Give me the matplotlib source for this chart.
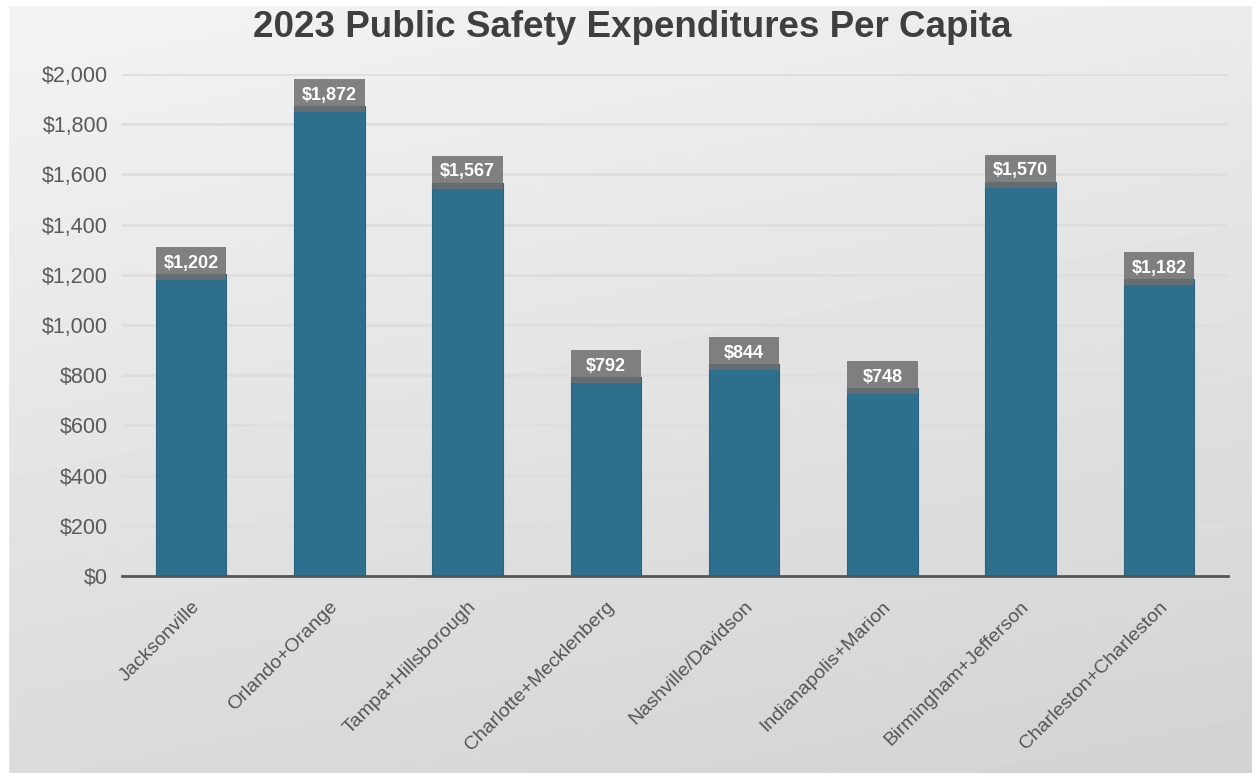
import numpy as np
import matplotlib
matplotlib.use('Agg')
import matplotlib.pyplot as plt
from matplotlib.ticker import FuncFormatter

plt.rcParams['font.family'] = ['Liberation Sans', 'DejaVu Sans']

# 各地区人均公共安全支出
regions = ['Jacksonville', 'Orlando+Orange', 'Tampa+Hillsborough', 'Charlotte+Mecklenberg',
           'Nashville/Davidson', 'Indianapolis+Marion', 'Birmingham+Jefferson', 'Charleston+Charleston']
spend = [1202, 1872, 1567, 792, 844, 748, 1570, 1182]
yticks = list(range(0, 2001, 200))

fig = plt.figure(figsize=(12.52, 7.73), dpi=100)

# 背景渐变
bg = fig.add_axes([0, 0, 1, 1])
bg.set_axis_off()
yy, xx = np.mgrid[0:1:200j, 0:1:300j]
shade = 0.955 - 0.13 * (0.75 * yy + 0.25 * xx)
bg.imshow(shade, cmap='gray', vmin=0, vmax=1, aspect='auto', extent=[0, 1, 0, 1], origin='upper')
bg.add_patch(plt.Rectangle((0, 0.993), 1, 0.01, color='white', transform=bg.transAxes))
bg.add_patch(plt.Rectangle((0, 0), 0.0065, 1, color='white', transform=bg.transAxes))
bg.set_xlim(0, 1)
bg.set_ylim(0, 1)

ax = fig.add_axes([0.0974, 0.2549, 0.8834, 0.6494])
ax.patch.set_alpha(0)
x = np.arange(len(regions))
bw = 0.51
ax.bar(x, spend, width=bw, color='#2e6f8e', edgecolor='#2a6683', linewidth=0.8, zorder=3)

# 数值标签底框，压在柱顶上
spend_arr = np.array(spend)
ax.bar(x, 132, bottom=spend_arr - 24, width=bw, color='#6e6e6e', alpha=0.85, zorder=4, clip_on=False)
for xi, v in zip(x, spend):
    ax.text(xi, v + 44, '${:,}'.format(v), ha='center', va='center', color='white',
            fontsize=13, fontweight='bold', zorder=5)

ax.set_xlim(-0.5, 7.5)
ax.set_ylim(0, 2000)
ax.set_yticks(yticks)
ax.yaxis.set_major_formatter(FuncFormatter(lambda v, p: '${:,.0f}'.format(v)))
ax.grid(axis='y', color='#dedede', linewidth=2, zorder=0)
ax.set_xticks(x)
ax.set_xticklabels(regions, rotation=45, ha='right', rotation_mode='anchor', fontsize=14, color='#555555')
ax.tick_params(axis='x', length=0, pad=16)
ax.tick_params(axis='y', length=0, pad=10, labelsize=15.5, labelcolor='#5a5a5a')
for s in ['top', 'right', 'left']:
    ax.spines[s].set_visible(False)
ax.spines['bottom'].set_color('#555555')
ax.spines['bottom'].set_linewidth(2)
ax.spines['bottom'].set_zorder(4)

fig.text(0.505, 0.964, '2023 Public Safety Expenditures Per Capita', ha='center', va='center',
         fontsize=26.5, fontweight='bold', color='#3f3f3f')

fig.savefig('out.png', dpi=100)
